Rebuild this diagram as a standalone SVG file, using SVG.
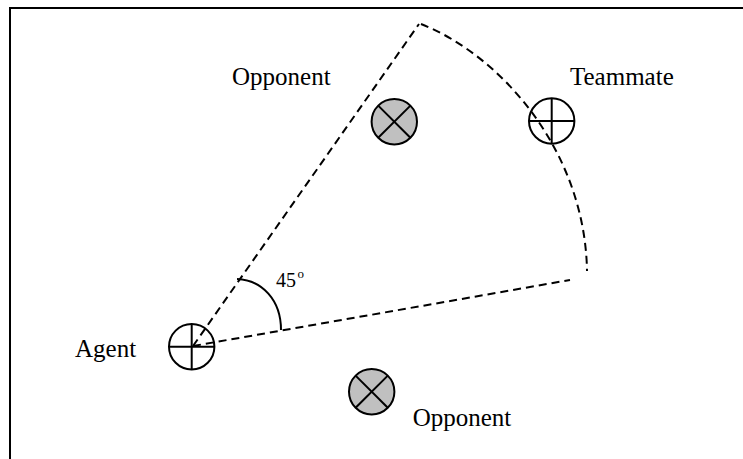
<svg xmlns="http://www.w3.org/2000/svg" width="743" height="459" viewBox="0 0 743 459">
<style>
.lbl{font-family:"Liberation Serif","Times New Roman",serif;font-size:25px;fill:#000}
.dash{fill:none;stroke:#000;stroke-width:2;stroke-dasharray:8 5}
.ring{stroke:#000;stroke-width:2}
.x{stroke:#000;stroke-width:2}
</style>
<rect width="743" height="459" fill="#fff"/>
<path d="M10,459 V8 H743" fill="none" stroke="#000" stroke-width="2"/>
<g id="connectors">
<path class="dash" d="M193,346 L419,24"/>
<path class="dash" d="M193,346 L570,280"/>
<path class="dash" d="M421,24 C500,55 585,150 587,271"/>
<path d="M237,279 C262,280 281,300 281,330" fill="none" stroke="#000" stroke-width="2"/>
</g>
<g id="angle-label">
<text class="lbl" x="276" y="287" style="font-size:20px">45</text>
<text class="lbl" x="297.5" y="278" style="font-size:13px">o</text>
</g>
<g id="agent">
<circle class="ring" cx="191.7" cy="346.7" r="22.7" fill="none"/>
<line class="x" x1="169" y1="346.7" x2="214.4" y2="346.7"/>
<line class="x" x1="191.7" y1="324" x2="191.7" y2="369.4"/>
<text class="lbl" x="75" y="357">Agent</text>
</g>
<g id="teammate">
<circle class="ring" cx="551.7" cy="121" r="22.7" fill="none"/>
<line class="x" x1="529" y1="121" x2="574.4" y2="121"/>
<line class="x" x1="551.7" y1="98.3" x2="551.7" y2="143.7"/>
<text class="lbl" x="570" y="85">Teammate</text>
</g>
<g id="opponent-top">
<circle class="ring" cx="394.3" cy="121.7" r="22.7" fill="#c0c0c0"/>
<line class="x" x1="378.2" y1="105.6" x2="410.4" y2="137.8"/>
<line class="x" x1="410.4" y1="105.6" x2="378.2" y2="137.8"/>
<text class="lbl" x="232" y="85">Opponent</text>
</g>
<g id="opponent-bottom">
<circle class="ring" cx="371.7" cy="391.7" r="22.7" fill="#c0c0c0"/>
<line class="x" x1="355.6" y1="375.6" x2="387.8" y2="407.8"/>
<line class="x" x1="387.8" y1="375.6" x2="355.6" y2="407.8"/>
<text class="lbl" x="412.7" y="426">Opponent</text>
</g>
</svg>
